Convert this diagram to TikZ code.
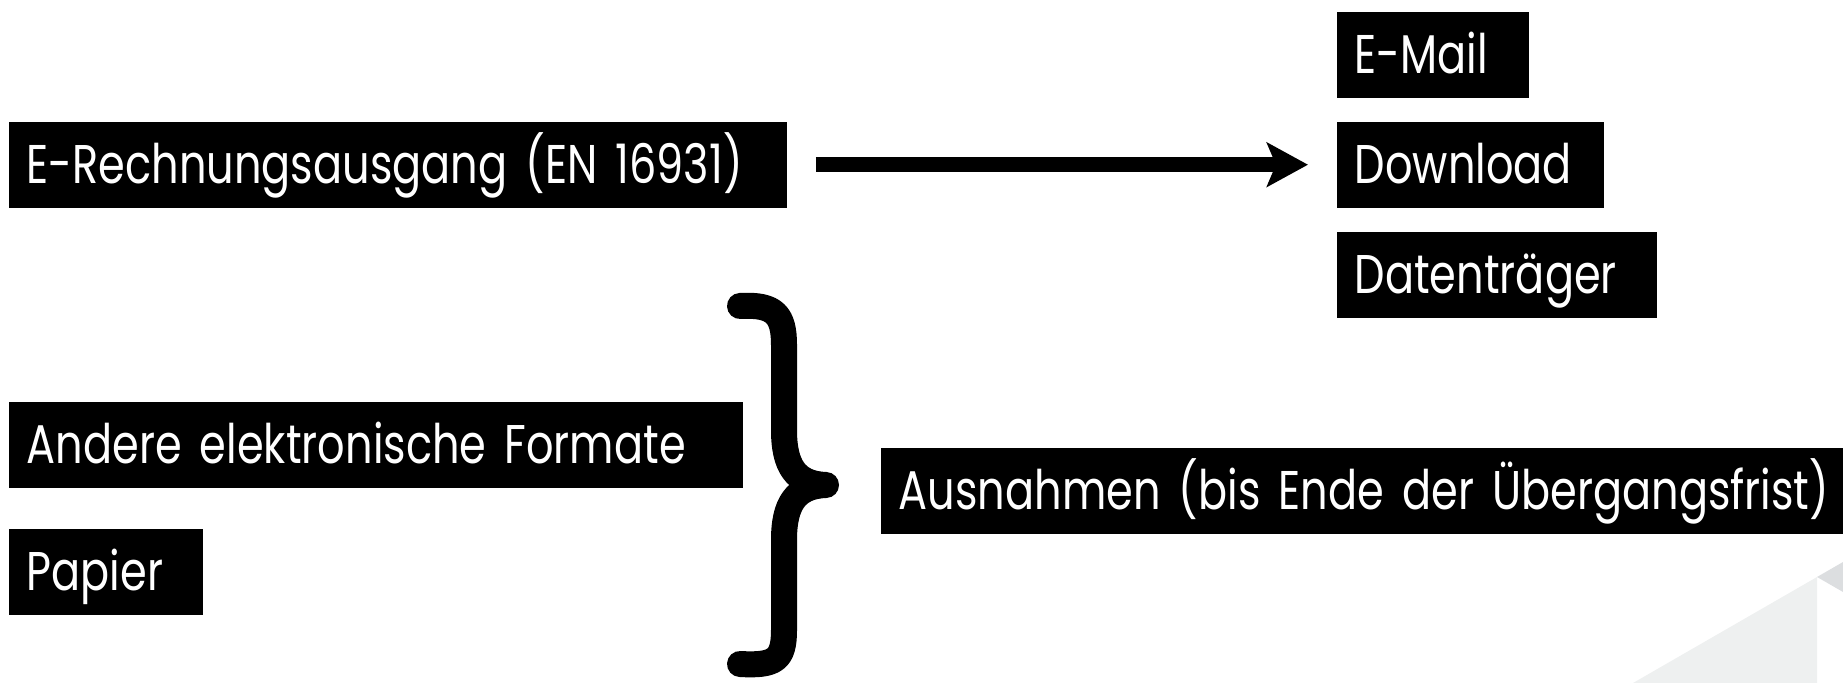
\documentclass[tikz,border=0pt]{standalone}
\usepackage{fontspec}
\setmainfont{Poppins}[FakeStretch=0.79]
\usetikzlibrary{arrows.meta}
\definecolor{lightgrey}{HTML}{EEF0F0}
\definecolor{midgrey}{HTML}{DCDEE0}
\begin{document}
\begin{tikzpicture}[x=0.01cm, y=-0.01cm, font=\fontsize{15.5}{18}\selectfont, line join=round,
  box/.style={fill=black, text=white, anchor=north west, inner xsep=0.18cm, inner ysep=0pt,
    minimum height=0.86cm, text height=0.47cm, text depth=0.09cm, align=left},
  >={Stealth[length=0.41cm, width=0.44cm, inset=0.09cm]}]
\useasboundingbox (0,0) rectangle (1843,683);
% grey corner
\fill[lightgrey] (1633,683) -- (1817,577) -- (1817,683) -- cycle;
\fill[midgrey] (1817,577) -- (1843,562) -- (1843,592) -- cycle;
% boxes
\node[box, text width=7.42cm] (out) at (8,121) {E-Rechnungsausgang (EN 16931)};
\node[box, text width=1.56cm] (mail) at (1336,11) {E-Mail};
\node[box, text width=2.31cm] (down) at (1336,121) {Download};
\node[box, text width=2.84cm] (disk) at (1336,231) {Datenträger};
\node[box, text width=6.98cm] (other) at (8,401) {Andere elektronische Formate};
\node[box, text width=1.58cm] (paper) at (8,528) {Papier};
\node[box, text width=10cm] (exc) at (880,447) {Ausnahmen (bis Ende der Übergangsfrist)};
% arrow
\draw[->, line width=0.15cm, shorten <=0.28cm, shorten >=0.28cm] (out) -- (down);
% brace
\draw[line width=0.26cm, line cap=round] (740,306) .. controls (775,304) and (784,315) .. (784,345)
  -- (784,430) .. controls (784,465) and (795,484) .. (826,485)
  .. controls (795,486) and (784,505) .. (784,540)
  -- (784,630) .. controls (784,660) and (775,666) .. (740,664);
\end{tikzpicture}
\end{document}
